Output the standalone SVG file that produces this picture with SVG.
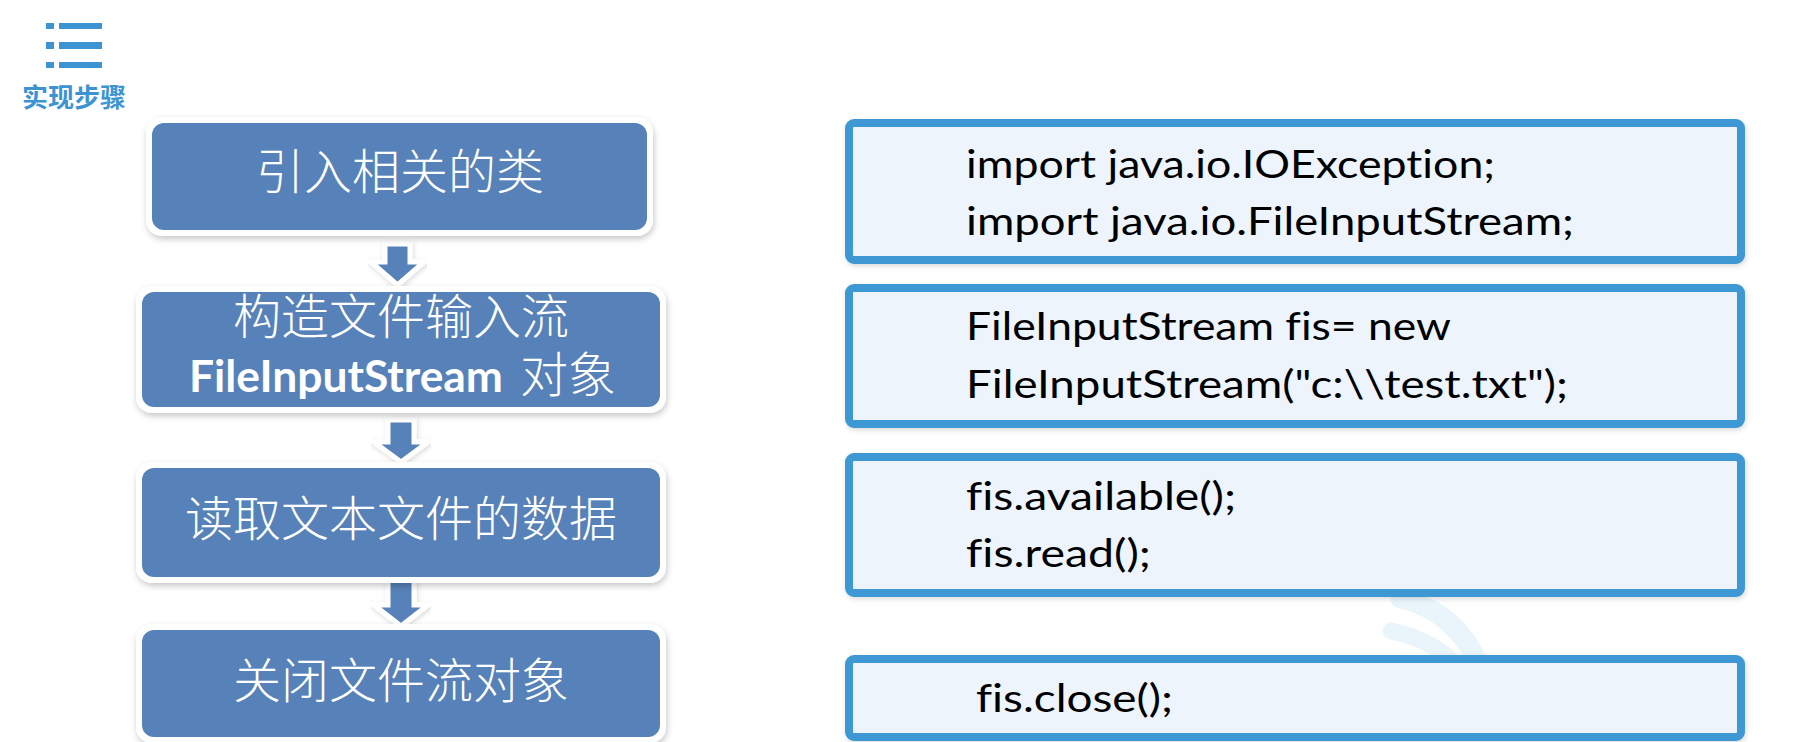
<svg xmlns="http://www.w3.org/2000/svg" width="1804" height="742" viewBox="0 0 1804 742">
  <defs>
    <filter id="sh" x="-10%" y="-20%" width="120%" height="150%">
      <feDropShadow dx="1" dy="3" stdDeviation="3" flood-color="#000" flood-opacity="0.22"/>
    </filter>
    <filter id="sh2" x="-5%" y="-10%" width="110%" height="130%">
      <feDropShadow dx="1" dy="2" stdDeviation="2.5" flood-color="#000" flood-opacity="0.15"/>
    </filter>
  </defs>
  <style>
    .step-outer { fill: #ffffff; filter: url(#sh); }
    .step { fill: #5781b9; }
    .step-text { font-family: "Noto Sans CJK SC", sans-serif; font-weight: 300; font-size: 48px; fill: #ffffff; text-anchor: middle; }
    .latin-bold { font-family: Lato, "Liberation Sans", sans-serif; font-weight: 700; }
    .code-box { fill: #edf4fc; stroke: #3e98d4; stroke-width: 8; filter: url(#sh2); }
    .code { font-family: Lato, "Liberation Sans", sans-serif; font-size: 39px; fill: #000000; font-variant-ligatures: none; font-feature-settings: "liga" 0; }
    .arrow { fill: #5781b9; stroke: #ffffff; stroke-width: 5; stroke-linejoin: miter; filter: url(#sh2); }
    .icon { fill: #3d94d3; }
    .wm { fill: none; stroke: #eaf5fb; stroke-linecap: round; }
  </style>

  <rect x="0" y="0" width="1804" height="742" fill="#ffffff"/>

  <!-- faint watermark -->
  <path class="wm" d="M1400,598 Q1458,612 1480,668" stroke-width="20"/>
  <path class="wm" d="M1391,631 Q1436,640 1460,670" stroke-width="17"/>

  <g id="header">
    <rect class="icon" x="46" y="23" width="8" height="6"/>
    <rect class="icon" x="59" y="23" width="43" height="6"/>
    <rect class="icon" x="46" y="42" width="8" height="7"/>
    <rect class="icon" x="59" y="42" width="43" height="7"/>
    <rect class="icon" x="46" y="62" width="8" height="6"/>
    <rect class="icon" x="59" y="62" width="43" height="6"/>
    <text x="22" y="107" font-family="Noto Sans CJK SC, sans-serif" font-weight="700" font-size="26" fill="#3d94d3">实现步骤</text>
  </g>

  <g id="connectors">
    <path class="arrow" d="M385,244 H410 V262 H424 L397.5,285 L371,262 H385 Z"/>
    <path class="arrow" d="M388,420 H414 V442 H428 L401,462 L374,442 H388 Z"/>
    <path class="arrow" d="M388,580 H414 V605 H428 L401,626 L374,605 H388 Z"/>
  </g>

  <g id="step1">
    <rect class="step-outer" x="146" y="117" width="507" height="119" rx="16"/>
    <rect class="step" x="152" y="123" width="495" height="107" rx="12"/>
    <text class="step-text" x="400" y="189">引入相关的类</text>
  </g>

  <g id="step2">
    <rect class="step-outer" x="136" y="286" width="530" height="127" rx="16"/>
    <rect class="step" x="142" y="292" width="518" height="115" rx="12"/>
    <text class="step-text"><tspan x="401" y="334">构造文件输入流</tspan><tspan x="189" y="392" style="text-anchor:start" class="latin-bold" font-size="44" textLength="314" lengthAdjust="spacingAndGlyphs">FileInputStream</tspan><tspan x="520" y="392" style="text-anchor:start">对象</tspan></text>
  </g>

  <g id="step3">
    <rect class="step-outer" x="136" y="462" width="530" height="121" rx="16"/>
    <rect class="step" x="142" y="468" width="518" height="109" rx="12"/>
    <text class="step-text" x="401" y="536">读取文本文件的数据</text>
  </g>

  <g id="step4">
    <rect class="step-outer" x="136" y="624" width="530" height="119" rx="16"/>
    <rect class="step" x="142" y="630" width="518" height="107" rx="12"/>
    <text class="step-text" x="401" y="698">关闭文件流对象</text>
  </g>

  <g id="code1">
    <rect class="code-box" x="849" y="123" width="892" height="137" rx="5"/>
    <text class="code" x="966" y="178" textLength="529" lengthAdjust="spacingAndGlyphs">import java.io.IOException;</text>
    <text class="code" x="966" y="235" textLength="608" lengthAdjust="spacingAndGlyphs">import java.io.FileInputStream;</text>
  </g>

  <g id="code2">
    <rect class="code-box" x="849" y="288" width="892" height="136" rx="5"/>
    <text class="code" x="966" y="340" textLength="485" lengthAdjust="spacingAndGlyphs">FileInputStream fis= new</text>
    <text class="code" x="966" y="398" textLength="602" lengthAdjust="spacingAndGlyphs">FileInputStream("c:\\test.txt");</text>
  </g>

  <g id="code3">
    <rect class="code-box" x="849" y="457" width="892" height="136" rx="5"/>
    <text class="code" x="966" y="510" textLength="270" lengthAdjust="spacingAndGlyphs">fis.available();</text>
    <text class="code" x="966" y="567" textLength="185" lengthAdjust="spacingAndGlyphs">fis.read();</text>
  </g>

  <g id="code4">
    <rect class="code-box" x="849" y="659" width="892" height="78" rx="5"/>
    <text class="code" x="976" y="712" textLength="197" lengthAdjust="spacingAndGlyphs">fis.close();</text>
  </g>
</svg>
